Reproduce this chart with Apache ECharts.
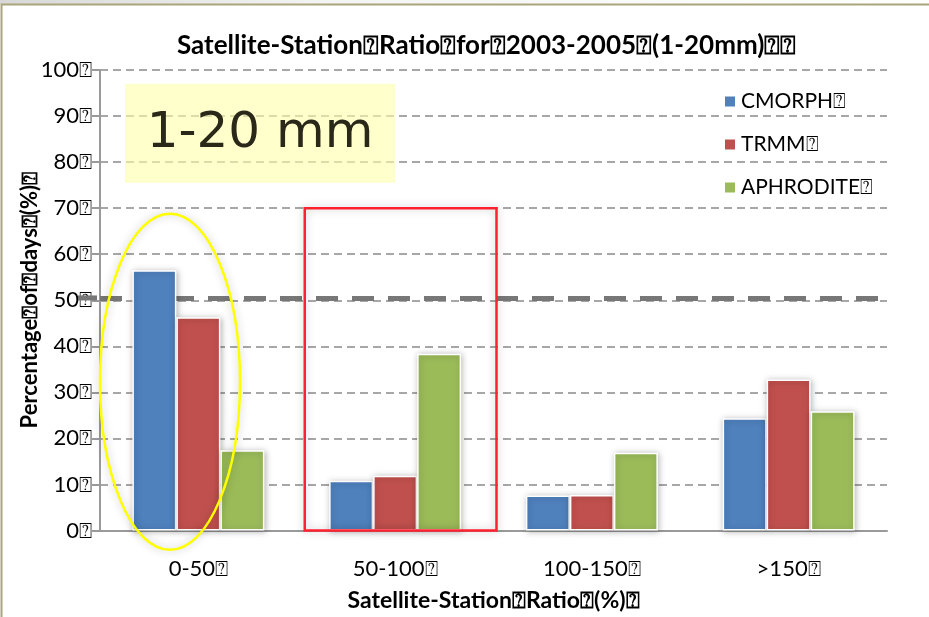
<!DOCTYPE html>
<html>
<head>
<meta charset="utf-8">
<style>
  html, body { margin: 0; padding: 0; background: #fff; }
  #chart { width: 929px; height: 617px; }
</style>
<script src="https://cdn.jsdelivr.net/npm/echarts@6/dist/echarts.min.js"></script>
</head>
<body>
<div id="chart"></div>
<script>
// Ratio classes (satellite / station, %)
const categories = ['0-50\u2370', '50-100\u2370', '100-150\u2370', '>150\u2370'];
// Percentage of days per product
const cmorph    = [56.5, 10.8, 7.6, 24.4];
const trmm      = [46.3, 11.9, 7.7, 32.8];
const aphrodite = [17.4, 38.4, 16.9, 25.9];
const seriesNames = ['CMORPH\u2370', 'TRMM\u2370', 'APHRODITE\u2370'];
const yTicks = { min: 0, max: 100, interval: 10 };
const referenceLevel = 50.5;

const FONT = 'Lato, "Open Sans", "DejaVu Sans", sans-serif';
const colors = ['#4F81BD', '#C0504D', '#9BBB59'];

const chart = echarts.init(document.getElementById('chart'));

function barSeries(name, data, i) {
  const s = {
    name: name,
    type: 'bar',
    data: data,
    barWidth: 44,
    barGap: '0%',
    itemStyle: {
      color: colors[i],
      borderColor: '#ffffff',
      borderWidth: 1.5,
      shadowBlur: 6,
      shadowColor: 'rgba(0,0,0,0.28)',
      shadowOffsetX: 1,
      shadowOffsetY: 1
    },
    emphasis: { disabled: true },
    z: 3
  };
  if (i === 0) {
    s.markLine = {
      silent: true,
      symbol: 'none',
      label: { show: false },
      lineStyle: { color: '#777777', width: 5, type: [22, 14] },
      data: [{ yAxis: referenceLevel }],
      z: 2
    };
  }
  return s;
}

chart.setOption({
  backgroundColor: '#ffffff',
  animation: false,
  textStyle: { fontFamily: FONT },
  title: {
    text: 'Satellite-Station\u2370Ratio\u2370for\u23702003-2005\u2370(1-20mm)\u2370\u2370',
    left: 172,
    top: 28,
    textStyle: { fontFamily: FONT, fontSize: 26, fontWeight: 'bold', color: '#000' }
  },
  legend: {
    orient: 'vertical',
    left: 718,
    top: 86,
    itemWidth: 12,
    itemHeight: 12,
    itemGap: 22,
    icon: 'rect',
    textStyle: { fontFamily: FONT, fontSize: 21, color: '#000' },
    data: seriesNames
  },
  grid: { left: 100, right: 42, top: 70, bottom: 86, containLabel: false },
  xAxis: {
    type: 'category',
    data: categories,
    name: 'Satellite-Station\u2370Ratio\u2370(%)\u2370',
    nameLocation: 'middle',
    nameGap: 70,
    nameMoveOverlap: false,
    nameTextStyle: { fontFamily: FONT, fontSize: 23, fontWeight: 'bold', color: '#000', verticalAlign: 'middle' },
    axisLine: { lineStyle: { color: '#9a9a9a', width: 2 } },
    axisTick: { show: false },
    axisLabel: { color: '#000', fontSize: 22, margin: 27, fontFamily: FONT }
  },
  yAxis: {
    type: 'value',
    min: yTicks.min,
    max: yTicks.max,
    interval: yTicks.interval,
    name: 'Percentage\u2370of\u2370days\u2370(%)\u2370',
    nameLocation: 'middle',
    nameGap: 70,
    nameMoveOverlap: false,
    nameTextStyle: { fontFamily: FONT, fontSize: 22, fontWeight: 'bold', color: '#000', verticalAlign: 'middle' },
    axisLine: { show: true, lineStyle: { color: '#9a9a9a', width: 2 } },
    axisTick: { show: true, length: 8, lineStyle: { color: '#9a9a9a', width: 2 } },
    axisLabel: {
      color: '#000', fontSize: 22, margin: 8, fontFamily: FONT,
      formatter: v => v + '\u2370'
    },
    splitLine: { lineStyle: { color: '#8a8a8a', width: 1.6, type: [8, 5] } }
  },
  series: [
    barSeries(seriesNames[0], cmorph, 0),
    barSeries(seriesNames[1], trmm, 1),
    barSeries(seriesNames[2], aphrodite, 2)
  ]
});

// Hand-drawn callouts, anchored in data space
const toPx = (cat, val) => chart.convertToPixel({ gridIndex: 0 }, [cat, val]);
const band = chart.getModel().getComponent('xAxis', 0).axis.getBandWidth();

const noteBox = { fromCat: 0, toCat: 1, top: 97, bottom: 75.5 };
const circleGroup = { cat: 0, val: 32.3, top: 68.8 };
const boxGroup = { cat: 1, top: 70, bottom: 0 };

const nbA = toPx(noteBox.fromCat, noteBox.top);
const nbB = toPx(noteBox.toCat, noteBox.bottom);
const nbX0 = nbA[0] - band / 2 + 25;
const nbX1 = nbB[0];

const cg = toPx(circleGroup.cat, circleGroup.val);
const cgTop = toPx(circleGroup.cat, circleGroup.top);
const cgRy = cg[1] - cgTop[1];

const bgA = toPx(boxGroup.cat, boxGroup.top);
const bgB = toPx(boxGroup.cat, boxGroup.bottom);

const refY = toPx(0, referenceLevel)[1];
const gridLeft = toPx(0, 0)[0] - band / 2;

chart.setOption({
  graphic: [
    {
      type: 'rect', z: 0, silent: true,
      shape: { x: 0, y: 0, width: 929, height: 4 },
      style: { fill: new echarts.graphic.LinearGradient(0, 0, 1, 0, [
        { offset: 0, color: '#d8d8d8' }, { offset: 0.35, color: '#f4f4f4' }, { offset: 1, color: '#ffffff' }
      ]) }
    },
    {
      type: 'rect', z: 100, silent: true,
      shape: { x: 1.5, y: 4.5, width: 1000, height: 1000 },
      style: { fill: 'none', stroke: '#a9a47c', lineWidth: 2 }
    },
    {
      // reference line continues past the value axis on the left
      type: 'line', z: 5, silent: true,
      shape: { x1: gridLeft - 22, y1: refY, x2: gridLeft - 3, y2: refY },
      style: { stroke: '#777777', lineWidth: 5 }
    },
    {
      type: 'rect', z: 50, silent: true,
      shape: { x: nbX0, y: nbA[1], width: nbX1 - nbX0, height: nbB[1] - nbA[1] },
      style: { fill: 'rgba(255,255,170,0.6)' }
    },
    {
      type: 'text', z: 51, silent: true,
      x: (nbX0 + nbX1) / 2, y: (nbA[1] + nbB[1]) / 2 + 1,
      style: {
        text: '1-20 mm', fill: '#2a2818', fontSize: 50,
        fontFamily: '"DejaVu Sans", sans-serif', fontWeight: 'normal',
        align: 'center', verticalAlign: 'middle'
      }
    },
    {
      type: 'ellipse', z: 60, silent: true,
      shape: { cx: cg[0] - band / 2 + 70, cy: cg[1], rx: 70, ry: cgRy },
      style: { fill: 'none', stroke: '#ffff00', lineWidth: 2.5, shadowBlur: 8, shadowColor: 'rgba(0,0,0,0.25)' }
    },
    {
      type: 'rect', z: 60, silent: true,
      shape: { x: bgA[0] - band / 2 + 8, y: bgA[1], width: band - 5, height: bgB[1] - bgA[1] },
      style: { fill: 'none', stroke: '#ff2030', lineWidth: 2.5, shadowBlur: 8, shadowColor: 'rgba(0,0,0,0.25)' }
    }
  ]
});
</script>
</body>
</html>
